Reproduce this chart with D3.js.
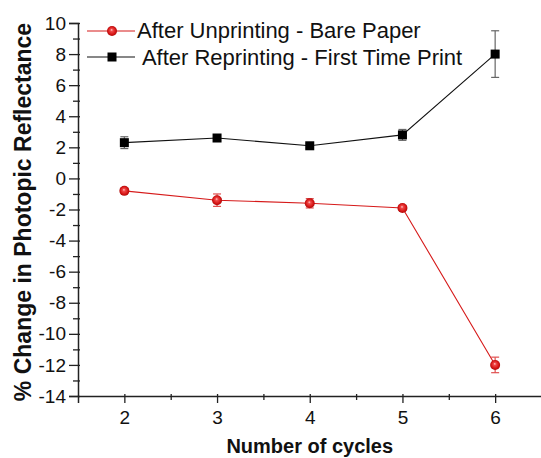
<!DOCTYPE html>
<html>
<head>
<meta charset="utf-8">
<script src="https://cdn.jsdelivr.net/npm/d3@7"></script>
<style>
  html, body { margin: 0; padding: 0; background: #fff; }
  svg { display: block; font-family: Arial, "Liberation Sans", sans-serif; }
</style>
</head>
<body>
<svg id="chart" width="541" height="458"></svg>
<script>
// Cycle numbers on the x axis
const cycles = [2, 3, 4, 5, 6];

// % change in photopic reflectance, mean and error per cycle
const unprintValues = [-0.8, -1.4, -1.6, -1.9, -12.0];
const unprintErrors = [0.15, 0.4, 0.3, 0.15, 0.5];
const reprintValues = [2.3, 2.6, 2.1, 2.8, 8.0];
const reprintErrors = [0.38, 0.15, 0.15, 0.35, 1.5];

const seriesNames = ["After Unprinting - Bare Paper", " After Reprinting - First Time Print"];

const xTickValues = [2, 3, 4, 5, 6];
const xMinorValues = [2.5, 3.5, 4.5, 5.5];
const yTickValues = [-14, -12, -10, -8, -6, -4, -2, 0, 2, 4, 6, 8, 10];
const yMinorValues = [-13, -11, -9, -7, -5, -3, -1, 1, 3, 5, 7, 9];

const svg = d3.select("#chart");

const x = d3.scaleLinear().domain([1.5, 6.5]).range([78, 541.5]);
const y = d3.scaleLinear().domain([-14, 10]).range([396, 23]);

// Glossy red sphere marker
const defs = svg.append("defs");
const grad = defs.append("radialGradient")
  .attr("id", "redBall").attr("cx", "0.5").attr("cy", "0.5").attr("r", "0.55")
  .attr("fx", "0.45").attr("fy", "0.38");
grad.append("stop").attr("offset", "0").attr("stop-color", "#ffd0d0");
grad.append("stop").attr("offset", "0.25").attr("stop-color", "#f04848");
grad.append("stop").attr("offset", "0.7").attr("stop-color", "#d41414");
grad.append("stop").attr("offset", "1").attr("stop-color", "#a00808");

// Axes (plain hyphen for negative labels)
const axisColor = "#222";
const fmt = d => String(d);
const xAxis = svg.append("g").attr("transform", `translate(0,${y(-14)})`)
  .call(d3.axisBottom(x).tickValues(xTickValues).tickSize(7).tickPadding(8).tickFormat(fmt));
const xMinor = svg.append("g").attr("transform", `translate(0,${y(-14)})`)
  .call(d3.axisBottom(x).tickValues(xMinorValues).tickSize(4).tickFormat(""));
const yAxis = svg.append("g").attr("transform", `translate(${x(1.5)},0)`)
  .call(d3.axisLeft(y).tickValues(yTickValues).tickSize(9).tickPadding(3).tickFormat(fmt));
const yMinor = svg.append("g").attr("transform", `translate(${x(1.5)},0)`)
  .call(d3.axisLeft(y).tickValues(yMinorValues).tickSize(5).tickFormat(""));

[xAxis, xMinor, yAxis, yMinor].forEach(g => {
  g.select(".domain").attr("stroke", axisColor).attr("stroke-width", 1.5);
  g.selectAll(".tick line").attr("stroke", axisColor).attr("stroke-width", 1.3);
  g.selectAll(".tick text").attr("fill", "#111").attr("font-size", 19)
    .attr("font-family", "Arial, 'Liberation Sans', sans-serif");
});
xMinor.select(".domain").remove();
yMinor.select(".domain").remove();
// ticks reach a little inside the plot as well
xAxis.selectAll(".tick line").attr("y1", -2);
xMinor.selectAll(".tick line").attr("y1", -2);
yAxis.selectAll(".tick line").attr("x1", 2);
yMinor.selectAll(".tick line").attr("x1", 2);

// Axis titles
svg.append("text")
  .attr("x", (x(1.5) + x(6.5)) / 2).attr("y", 453)
  .attr("text-anchor", "middle").attr("font-weight", "bold").attr("font-size", 20)
  .attr("fill", "#111").text("Number of cycles");
svg.append("text")
  .attr("transform", `translate(31,212) rotate(-90)`)
  .attr("text-anchor", "middle").attr("font-weight", "bold").attr("font-size", 23)
  .attr("fill", "#111").text("% Change in Photopic Reflectance");

const line = d3.line().x(d => x(d[0])).y(d => y(d[1]));

function drawSeries(vals, errs, color, errColor, marker) {
  const pts = cycles.map((c, i) => [c, vals[i], errs[i]]);
  svg.append("path").datum(pts).attr("d", line)
    .attr("fill", "none").attr("stroke", color).attr("stroke-width", 1.1);
  const eb = svg.append("g");
  pts.forEach(p => {
    const cx = x(p[0]);
    const top = y(p[1] + p[2]), bot = y(p[1] - p[2]);
    eb.append("line").attr("x1", cx).attr("x2", cx).attr("y1", top).attr("y2", bot)
      .attr("stroke", errColor).attr("stroke-width", 1.2);
    [top, bot].forEach(yy => eb.append("line").attr("x1", cx - 4).attr("x2", cx + 4)
      .attr("y1", yy).attr("y2", yy).attr("stroke", errColor).attr("stroke-width", 1.2));
  });
  pts.forEach(p => marker(svg, x(p[0]), y(p[1])));
}

function redMarker(g, cx, cy) {
  g.append("circle").attr("cx", cx).attr("cy", cy).attr("r", 5)
    .attr("fill", "url(#redBall)");
}
function blackMarker(g, cx, cy) {
  g.append("rect").attr("x", cx - 4.5).attr("y", cy - 4.5)
    .attr("width", 9).attr("height", 9).attr("fill", "#000");
}

drawSeries(reprintValues, reprintErrors, "#111", "#666", blackMarker);
drawSeries(unprintValues, unprintErrors, "#d61a1a", "#e05050", redMarker);

// Legend
const legend = [
  { name: seriesNames[0], color: "#d61a1a", marker: redMarker, y: 31, dy: 7 },
  { name: seriesNames[1], color: "#111", marker: blackMarker, y: 57, dy: 8 }
];
legend.forEach(item => {
  svg.append("line").attr("x1", 87).attr("x2", 135).attr("y1", item.y).attr("y2", item.y)
    .attr("stroke", item.color).attr("stroke-width", 1.1);
  item.marker(svg, 112, item.y);
  svg.append("text").attr("x", 137).attr("y", item.y + item.dy)
    .attr("font-size", 22).attr("fill", "#111").attr("xml:space", "preserve")
    .style("white-space", "pre").text(item.name);
});
</script>
</body>
</html>
